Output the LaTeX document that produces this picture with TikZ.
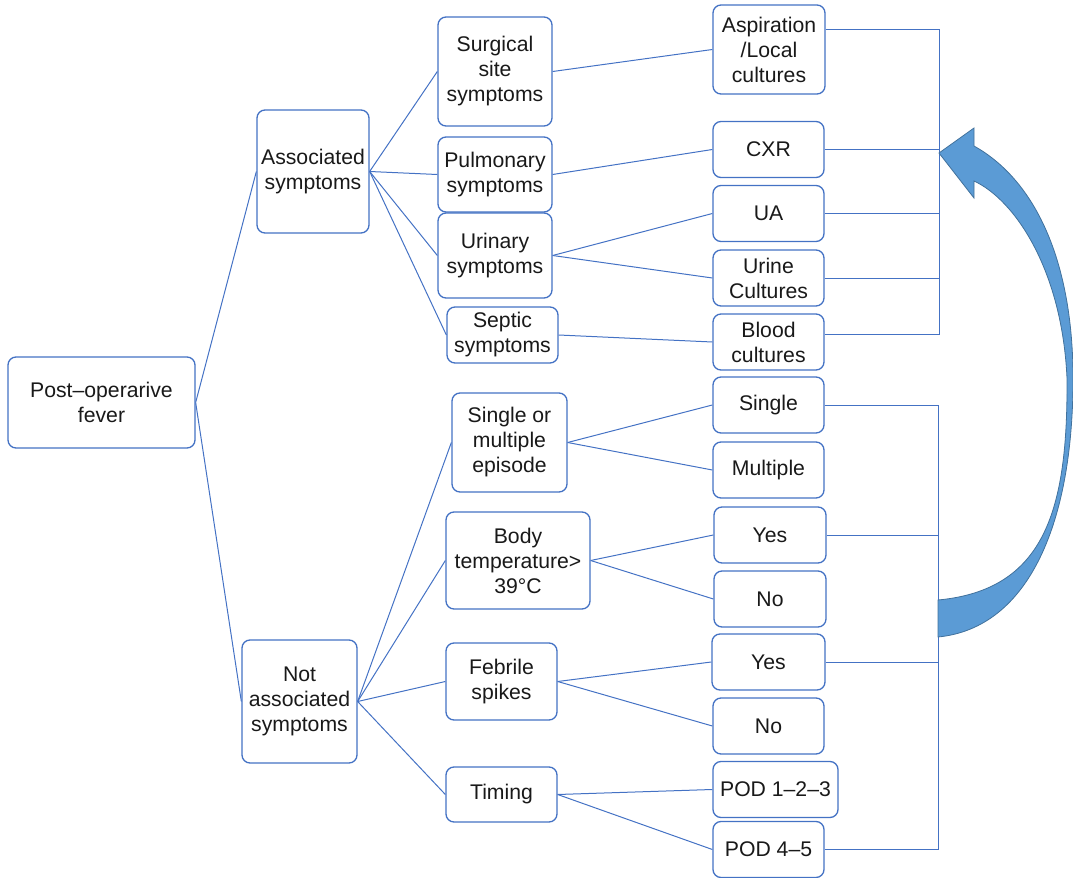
\documentclass[tikz,border=0pt]{standalone}
\usepackage{fontspec}
\setmainfont{Liberation Sans}
\usepackage{tikz}
\usetikzlibrary{calc}
\usetikzlibrary{arrows.meta, positioning}

\definecolor{trait}{RGB}{68,114,196}
\definecolor{fleche}{RGB}{91,155,213}
\definecolor{flechebord}{RGB}{65,113,156}

\begin{document}
\begin{tikzpicture}[x=0.5pt, y=-0.5pt,
    every node/.style={font=\fontsize{10.6}{12.5}\selectfont, text=black!90},
    cbox/.style={draw=trait, line width=0.65pt, rounded corners=4pt, align=center, inner sep=1pt, fill=white},
    leaf/.style={cbox, minimum width=55.5pt, minimum height=28pt},
    lien/.style={draw=trait, line width=0.5pt}]

\useasboundingbox (0,0) rectangle (1073,878);

% Racine
\node[cbox, minimum width=93.5pt, minimum height=45.5pt] (root) at (101.5,402.5) {Post–operarive\\fever};

% Deux branches
\node[cbox, minimum width=56pt, minimum height=61.5pt] (assoc) at (313,171.5) {Associated\\symptoms};
\node[cbox, minimum width=57.5pt, minimum height=61.5pt] (notassoc) at (299.5,701.5) {Not\\associated\\symptoms};

% Symptomes
\node[cbox, minimum width=57pt, minimum height=54.5pt] (surg) at (495,71.5) {Surgical\\site\\symptoms};
\node[cbox, minimum width=57pt, minimum height=37.5pt] (pulm) at (495,174.5) {Pulmonary\\symptoms};
\node[cbox, minimum width=57pt, minimum height=42.5pt] (urin) at (495,255.5) {Urinary\\symptoms};
\node[cbox, minimum width=55.5pt, minimum height=28pt] (sept) at (502.5,335) {Septic\\symptoms};

% Caracteres de la fievre
\node[cbox, minimum width=57.5pt, minimum height=49.5pt] (episode) at (509.5,442.5) {Single or\\multiple\\episode};
\node[cbox, minimum width=72pt, minimum height=48.5pt] (bodyT) at (518,560.5) {Body\\temperature>\\39°C};
\node[cbox, minimum width=55.5pt, minimum height=38.5pt] (febr) at (501.5,681.5) {Febrile\\spikes};
\node[cbox, minimum width=55.5pt, minimum height=27.5pt] (timing) at (501.5,794.5) {Timing};

% Examens
\node[cbox, minimum width=56pt, minimum height=44.5pt] (asp) at (769,49.5) {Aspiration\\/Local\\cultures};
\node[leaf] (cxr) at (768.5,149.5) {CXR};
\node[leaf] (ua) at (768.5,213.5) {UA};
\node[leaf] (urine) at (768.5,278) {Urine\\Cultures};
\node[leaf] (blood) at (768.5,342) {Blood\\cultures};

% Reponses
\node[leaf] (single) at (768.5,405) {Single};
\node[leaf] (multiple) at (768.5,470) {Multiple};
\node[leaf, minimum width=56pt] (yesT) at (770,535) {Yes};
\node[leaf, minimum width=56pt] (noT) at (770,599) {No};
\node[leaf, minimum width=56.5pt] (yesF) at (768.5,662) {Yes};
\node[leaf] (noF) at (768.5,726) {No};
\node[leaf, minimum width=62.5pt] (podA) at (775.5,789.5) {POD 1–2–3};
\node[leaf] (podB) at (768.5,849.5) {POD 4–5};

% Liens
\draw[lien] (root.east) -- (assoc.west);
\draw[lien] (root.east) -- (notassoc.west);
\foreach \n in {surg, pulm, urin, sept}
    \draw[lien] (assoc.east) -- (\n.west);
\foreach \n in {episode, bodyT, febr, timing}
    \draw[lien] (notassoc.east) -- (\n.west);
\draw[lien] (surg.east) -- (asp.west);
\draw[lien] (pulm.east) -- (cxr.west);
\draw[lien] (urin.east) -- (ua.west);
\draw[lien] (urin.east) -- (urine.west);
\draw[lien] (sept.east) -- (blood.west);
\draw[lien] (episode.east) -- (single.west);
\draw[lien] (episode.east) -- (multiple.west);
\draw[lien] (bodyT.east) -- (yesT.west);
\draw[lien] (bodyT.east) -- (noT.west);
\draw[lien] (febr.east) -- (yesF.west);
\draw[lien] (febr.east) -- (noF.west);
\draw[lien] (timing.east) -- (podA.west);
\draw[lien] (timing.east) -- (podB.west);

% Accolades a droite
\coordinate (barre) at (939,0);
\coordinate (barre2) at (938,0);
\coordinate (aspout) at ($(asp.east)+(0,-20)$);
\coordinate (bloodout) at ($(blood.east)+(0,-8)$);
\draw[lien] (aspout) -- (aspout -| barre) -- (bloodout -| barre) -- (bloodout);
\foreach \n in {cxr, ua, urine}
    \draw[lien] (\n.east) -- (\n.east -| barre);
\draw[lien] (single.east) -- (single.east -| barre2) -- (podB.east -| barre2) -- (podB.east);
\foreach \n in {yesT, yesF}
    \draw[lien] (\n.east) -- (\n.east -| barre2);

% Fleche courbe
\fill[fleche, draw=flechebord, line width=0.4pt]
    (938,637) .. controls (1030,628) and (1074,520) .. (1073,374)
              .. controls (1072,260) and (1035,180) .. (974,146)
              -- (974,128) -- (939,153) -- (974,198) -- (974,181)
              .. controls (1015,200) and (1062,270) .. (1067,378)
              .. controls (1068,510) and (1045,590) .. (938,600) -- cycle;

\end{tikzpicture}
\end{document}
